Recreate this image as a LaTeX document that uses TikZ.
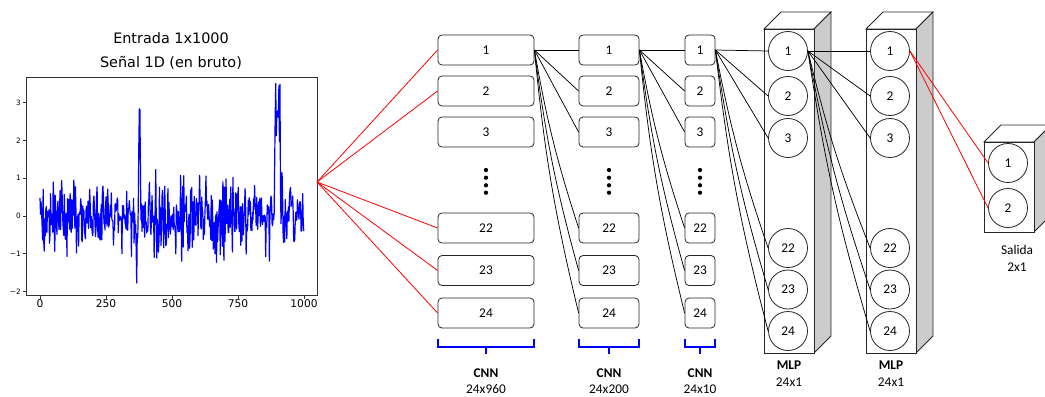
\documentclass[tikz,border=0pt]{standalone}
\usepackage{fontspec}
\setmainfont{Carlito}
\newfontfamily\plotfont{DejaVu Sans}

% draws a box in oblique projection: front face (#1,#2)-(#3,#4), depth 17
\newcommand\drawprism[4]{%
  \filldraw[prismline, fill=white] (#1,#2) -- ++(17,-17) -- ({#3+17},{#2-17}) -- (#3,#2) -- cycle;
  \filldraw[prismline, fill=sidegray] (#3,#2) -- ++(17,-17) -- ({#3+17},{#4-17}) -- (#3,#4) -- cycle;
  \filldraw[prismline, fill=white] (#1,#2) rectangle (#3,#4);
}

\definecolor{sidegray}{RGB}{204,204,204}
\definecolor{sigblue}{RGB}{0,0,255}

\begin{document}
\begin{tikzpicture}[x=0.75pt,y=-0.75pt,
  box/.style={draw=black!85, rounded corners=3pt, minimum height=22.5pt, inner sep=0pt,
              line width=0.6pt, font=\fontsize{10}{12}\selectfont},
  neuron/.style={circle, draw=black!85, fill=white, minimum size=29.25pt, inner sep=0pt,
                 line width=0.6pt, font=\fontsize{10}{12}\selectfont},
  prismline/.style={draw=black!85, line width=0.6pt},
  link/.style={black, line width=0.55pt},
  redlink/.style={red, line width=0.6pt},
  brace/.style={sigblue, line width=0.8pt},
  lbl/.style={font=\fontsize{10}{12}\selectfont, inner sep=0pt},
  lblb/.style={font=\bfseries\fontsize{10}{12}\selectfont, inner sep=0pt},
  ptitle/.style={font=\plotfont\fontsize{10.8}{13}\selectfont, inner sep=0pt},
  ytick/.style={font=\plotfont\fontsize{5.5}{7}\selectfont, anchor=east, inner sep=0pt},
  xtick/.style={font=\plotfont\fontsize{8}{10}\selectfont, anchor=north, inner sep=0pt}
]
\useasboundingbox (0,0) rectangle (1045,396);

% ---------------- raw 1D signal plot ----------------
\node[ptitle] (title1) at (171,38) {Entrada 1x1000};
\node[ptitle] (title2) at (171,63) {Señal 1D (en bruto)};

\pgfmathsetseed{12}
\draw[sigblue, line width=0.9pt, line join=round]
  plot[domain=0:999, samples=500, variable=\t]
  ({40+0.264*\t},
   {216-37.8*(0.47*(rand+rand+rand)
     + 2.8*max(0,1-abs(\t-377)/6)
     + 2.8*min(1,max(0,(14-abs(\t-900))/6))
     - 1.0*max(0,1-abs(\t-366)/3))});

\draw[black!80, line width=0.7pt] (26,77) rectangle (317,295);
\foreach \v/\txt in {3/3, 2/2, 1/1, 0/0, -1/−1, -2/−2} {
  \draw[black!80, line width=0.5pt] (22.5,{216-37.8*\v}) -- (26,{216-37.8*\v});
  \node[ytick] (yt\v) at (21,{216-37.8*\v}) {\txt};
}
\foreach \v in {0,250,500,750,1000} {
  \draw[black!80, line width=0.5pt] ({40+0.264*\v},295) -- ({40+0.264*\v},298.5);
  \node[xtick] (xt\v) at ({40+0.264*\v},299) {\v};
}

% ---------------- CNN columns ----------------
\foreach \c/\x/\w in {a/486/72, b/609/45, c/700/22.5} {
  \foreach \n/\y in {1/50, 2/91, 3/132, 22/228, 23/270.5, 24/313} {
    \node[box, minimum width=\w pt] (\c\n) at (\x,\y) {\n};
  }
  \foreach \yy in {170,177.7,185.3,192.7} {
    \fill (\x,\yy) circle[radius=1.6pt];
  }
}

% braces under the CNN columns
\foreach \l/\r in {438/534, 579/639, 685/715} {
  \draw[brace] (\l,339) -- (\l,347) -- (\r,347) -- (\r,339);
  \draw[brace, line width=1.2pt] ({(\l+\r)/2},347) -- ({(\l+\r)/2},354);
}

\node[lblb] (cnn1) at (486,373) {CNN};
\node[lbl]  (dim1) at (486,389) {24x960};
\node[lblb] (cnn2) at (609,373) {CNN};
\node[lbl]  (dim2) at (609,389) {24x200};
\node[lblb] (cnn3) at (700,373) {CNN};
\node[lbl]  (dim3) at (700,389) {24x10};

% ---------------- MLP layers and output ----------------
\drawprism{764}{29}{814}{353}
\drawprism{866}{29}{916}{353}
\drawprism{984}{142}{1034}{232}

\foreach \n/\y in {1/51, 2/96, 3/138, 22/248, 23/289.5, 24/331} {
  \node[neuron] (m\n) at (788,\y) {\n};
  \node[neuron] (n\n) at (890,\y) {\n};
}
\node[neuron] (o1) at (1008,163) {1};
\node[neuron] (o2) at (1008,208) {2};

\node[lblb] (mlp1) at (789,365) {MLP};
\node[lbl]  (mdim1) at (789,382) {24x1};
\node[lblb] (mlp2) at (891,365) {MLP};
\node[lbl]  (mdim2) at (891,382) {24x1};
\node[lbl]  (out) at (1017,250) {Salida};
\node[lbl]  (odim) at (1017,267) {2x1};

% ---------------- connections ----------------
\coordinate (src) at (317,182);
\foreach \t in {1,2,22,23,24} {
  \draw[redlink] (src) -- (a\t.west);
}

\foreach \s/\d in {a/b, b/c, c/m, m/n} {
  \foreach \t in {1,2,3} {
    \draw[link] (\s1.east) -- (\d\t.west);
  }
  \foreach \t in {22,23,24} {
    \draw[link] (\s1.east) to[bend right=4] (\d\t.west);
  }
}

\draw[redlink] (n1.east) -- (o1.west);
\draw[redlink] (n1.east) -- (o2.west);

\end{tikzpicture}
\end{document}
